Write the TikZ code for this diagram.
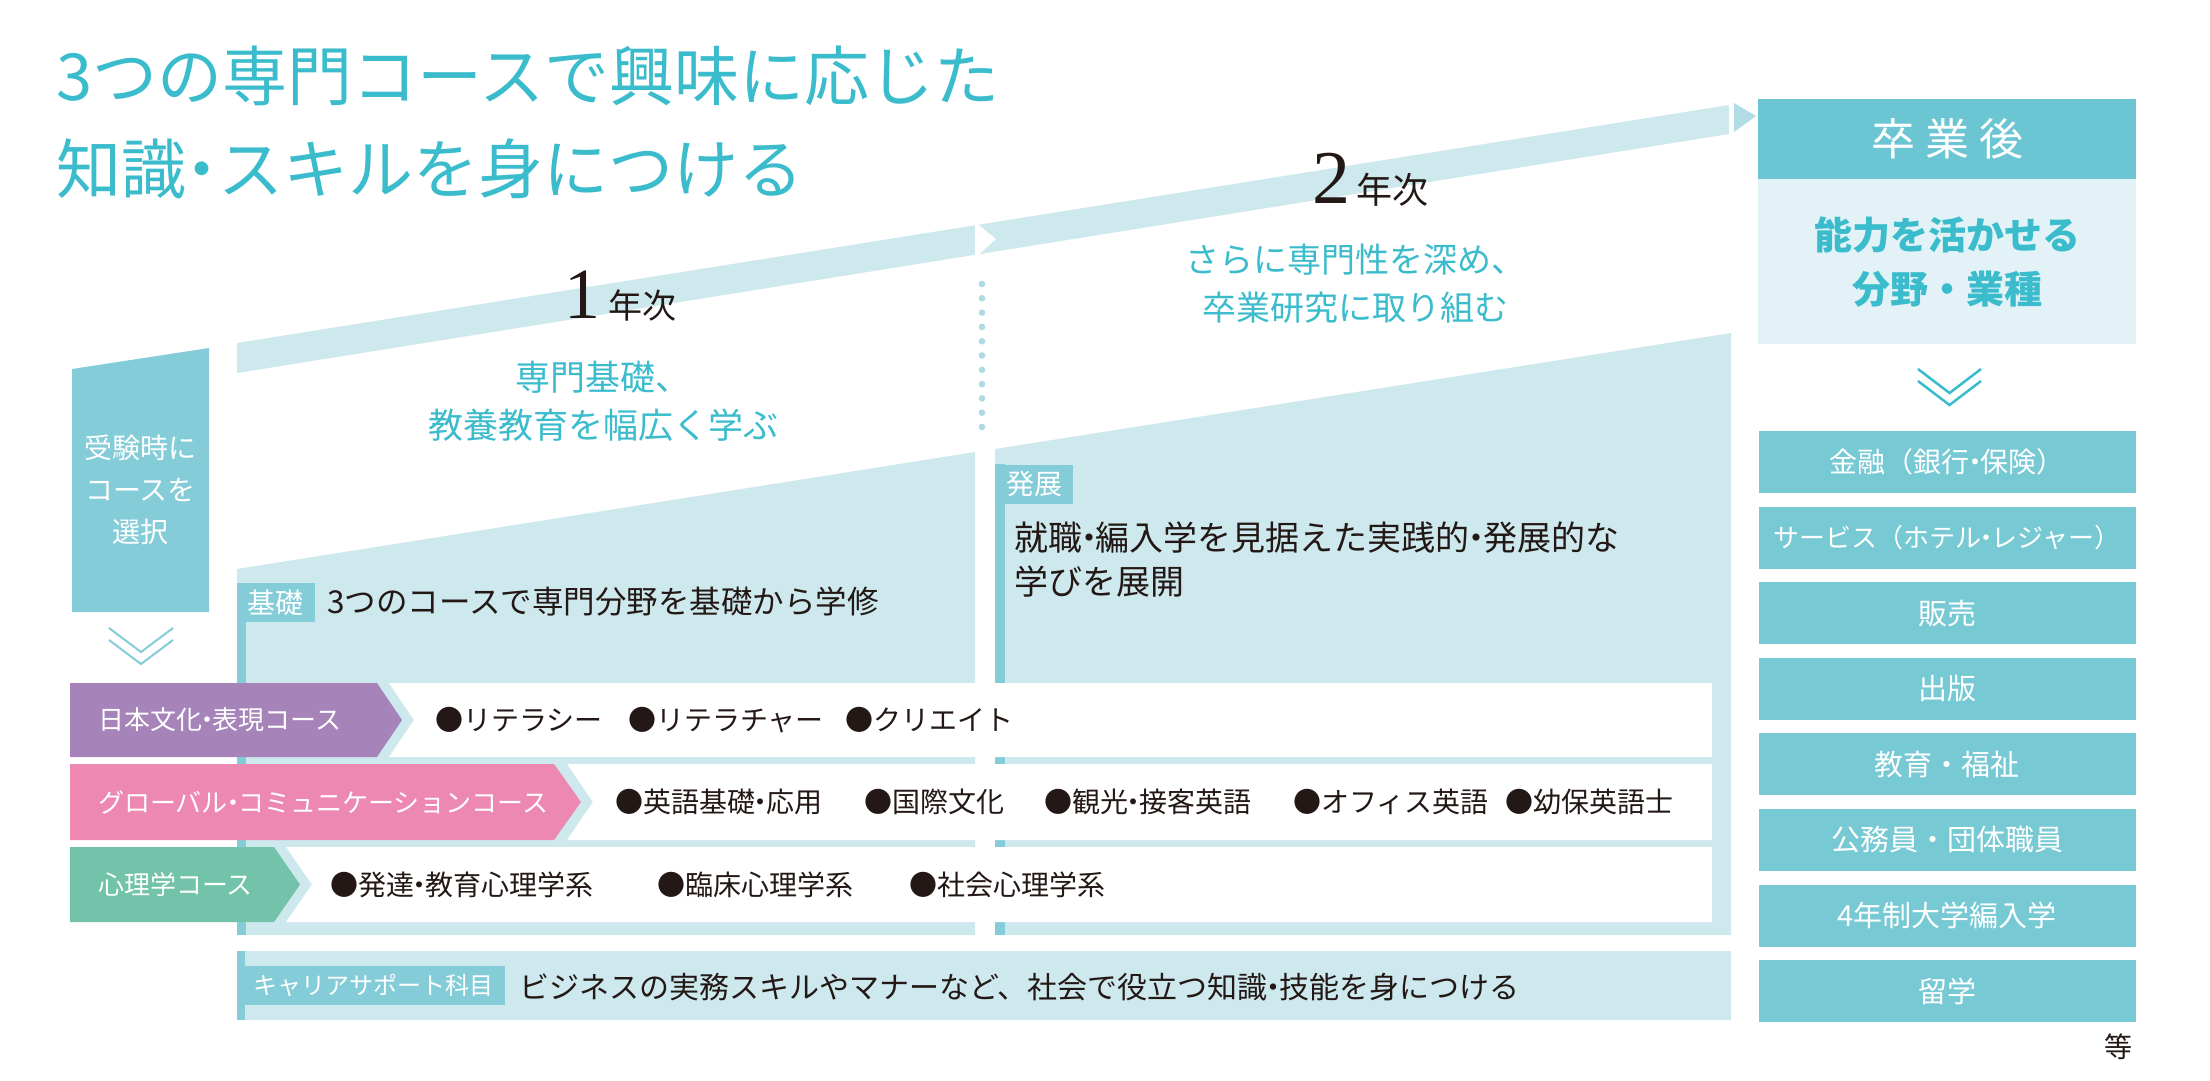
\documentclass[tikz,border=0pt]{standalone}
\usepackage{fontspec}
\setmainfont{Noto Sans CJK JP}
\newfontfamily\numfont{Liberation Serif}
\definecolor{ink}{HTML}{231815}
\definecolor{titleblue}{HTML}{3ABCCC}
\definecolor{bandblue}{HTML}{CDE9EE}
\definecolor{arrowblue}{HTML}{B3DDE6}
\definecolor{dotblue}{HTML}{ADDAE3}
\definecolor{tagblue}{HTML}{84CCD8}
\definecolor{headblue}{HTML}{6BC5D3}
\definecolor{panelblue}{HTML}{E2F2F6}
\definecolor{jobblue}{HTML}{77C9D4}
\definecolor{coursejpn}{HTML}{A683B9}
\definecolor{courseglb}{HTML}{EC88B1}
\definecolor{coursepsy}{HTML}{72C3AA}
\newcommand\fsz[2]{\fontsize{#1pt}{#2pt}\selectfont}
\newcommand\nd{\makebox[0.4em]{・}}
\begin{document}
\begin{tikzpicture}
  [x=1pt,y=-1pt,every node/.style={inner sep=0pt,text=ink},
   tag/.style={fill=tagblue,text=white,font=\fsz{28}{28},minimum width=78pt,minimum height=39pt},
   job/.style={fill=jobblue,text=white,font=\fsz{29}{29},minimum width=377pt,minimum height=62pt},
   course/.style={anchor=west,text=white,font=\fsz{26}{26}},
   item/.style={anchor=west,font=\fsz{28}{28}},
   lead/.style={text=titleblue,align=center,font=\fsz{35}{48}}]
  \useasboundingbox[fill=white] (0,0) rectangle (2210,1080);

  % title
  \node[anchor=west,text=titleblue,font=\fsz{65}{65}] (title1) at (56,76) {3つの専門コースで興味に応じた};
  \node[anchor=west,text=titleblue,font=\fsz{65}{65}] (title2) at (56,169) {知識\makebox[0.5em]{・}スキルを身につける};

  % time band
  \fill[bandblue] (237,343) -- (1729,105) -- (1729,134) -- (237,373) -- cycle;
  \fill[white] (975,222) -- (996,239) -- (975,258) -- cycle;
  \fill[arrowblue] (1734,103) -- (1756,116) -- (1734,132) -- cycle;

  % year areas
  \fill[bandblue] (237,569) -- (975,452) -- (975,935) -- (237,935) -- cycle;
  \fill[bandblue] (995,449) -- (1731,333) -- (1731,935) -- (995,935) -- cycle;
  \fill[tagblue] (237,583) rectangle (246,935);
  \fill[tagblue] (995,464) rectangle (1005,935);

  \coordinate (dtop) at (982,284);
  \coordinate (dbot) at (982,428);
  \draw[dotblue,line width=6.6pt,line cap=round,dash pattern=on 0pt off 14.3pt] (dtop) -- (dbot);

  \node[anchor=base] (year1) at (620,318) {{\numfont\fsz{72}{72}1}\hspace{8pt}{\fsz{34}{34}年次}};
  \node[anchor=base] (year2) at (1370,203) {{\numfont\fsz{76}{76}2}\hspace{6pt}{\fsz{36}{36}年次}};
  \node[lead] (lead1) at (603,401) {専門基礎、\\教養教育を幅広く学ぶ};
  \node[lead,font=\fsz{34}{48}] (lead2) at (1355,284) {さらに専門性を深め、\\卒業研究に取り組む};

  \node[tag] (kiso) at (275.5,602.5) {基礎};
  \node[anchor=west,font=\fsz{31.5}{31.5}] (kisotext) at (327,602) {3つのコースで専門分野を基礎から学修};
  \node[tag] (hatten) at (1034,484) {発展};
  \node[anchor=west,align=left,font=\fsz{34}{44}] (hattentext) at (1014,560) {就職\nd 編入学を見据えた実践的\nd 発展的な\\学びを展開};

  % entrance choice
  \fill[tagblue] (72,369) -- (209,348) -- (209,612) -- (72,612) -- cycle;
  \node[text=white,align=center,font=\fsz{28}{42}] (choice) at (140.5,490) {受験時に\\コースを\\選択};
  \draw[tagblue,line width=2pt] (109,628) -- (141,652) -- (173,628) (109,640) -- (141,664) -- (173,640);

  % courses
  \fill[white] (389,683) -- (1712,683) -- (1712,757) -- (389,757) -- (414,720) -- cycle;
  \fill[coursejpn] (70,683) -- (377,683) -- (402,720) -- (377,757) -- (70,757) -- cycle;
  \fill[white] (567,764) -- (1712,764) -- (1712,840) -- (567,840) -- (593,802) -- cycle;
  \fill[courseglb] (70,764) -- (554,764) -- (581,802) -- (554,840) -- (70,840) -- cycle;
  \fill[white] (286,847) -- (1712,847) -- (1712,922) -- (286,922) -- (312,884.5) -- cycle;
  \fill[coursepsy] (70,847) -- (274,847) -- (300,884.5) -- (274,922) -- (70,922) -- cycle;

  \node[course] (jpn) at (98,720) {日本文化\nd 表現コース};
  \node[course] (glb) at (98,802) {グローバル\nd コミュニケーションコース};
  \node[course] (psy) at (98,884.5) {心理学コース};

  \node[item] (jpn1) at (435,720) {●リテラシー};
  \node[item] (jpn2) at (628,720) {●リテラチャー};
  \node[item] (jpn3) at (845,720) {●クリエイト};
  \node[item] (glb1) at (615,802) {●英語基礎\nd 応用};
  \node[item] (glb2) at (864,802) {●国際文化};
  \node[item] (glb3) at (1044,802) {●観光\nd 接客英語};
  \node[item] (glb4) at (1293,802) {●オフィス英語};
  \node[item] (glb5) at (1505,802) {●幼保英語士};
  \node[item] (psy1) at (330,884.5) {●発達\nd 教育心理学系};
  \node[item] (psy2) at (657,884.5) {●臨床心理学系};
  \node[item] (psy3) at (909,884.5) {●社会心理学系};

  % career support
  \fill[bandblue] (237,951) rectangle (1731,1020);
  \fill[tagblue] (237,951) rectangle (245,1020);
  \node[tag,font=\fsz{24}{24},minimum width=264pt] (support) at (373,985.5) {キャリアサポート科目};
  \node[anchor=west,font=\fsz{30}{30}] (supporttext) at (519,987) {ビジネスの実務スキルやマナーなど、社会で役立つ知識\nd 技能を身につける};

  % after graduation
  \node[fill=headblue,text=white,minimum width=378pt,minimum height=80pt,font=\fsz{44}{44}] (after) at (1947,139) {卒\hspace{10pt}業\hspace{10pt}後};
  \node[fill=panelblue,text=titleblue,align=center,minimum width=378pt,minimum height=165pt,font=\fsz{38}{54}\bfseries,anchor=north] (field) at (after.south) {能力を活かせる\\分野・業種};
  \draw[titleblue,line width=2.5pt] (1918,369) -- (1949.5,393) -- (1981,369) (1918,381) -- (1949.5,405) -- (1981,381);

  \node[job,font=\fsz{28}{28}] (job1) at (1947,462) {金融（銀行\nd 保険）};
  \node[job,font=\fsz{26}{26}] (job2) at (1947,537.6) {サービス（ホテル\nd レジャー）};
  \node[job] (job3) at (1947,613.2) {販売};
  \node[job] (job4) at (1947,688.8) {出版};
  \node[job] (job5) at (1947,764.4) {教育・福祉};
  \node[job] (job6) at (1947,840) {公務員・団体職員};
  \node[job] (job7) at (1947,915.6) {4年制大学編入学};
  \node[job] (job8) at (1947,991.2) {留学};
  \node[font=\fsz{28}{28}] (etc) at (2118,1047) {等};
\end{tikzpicture}
\end{document}
